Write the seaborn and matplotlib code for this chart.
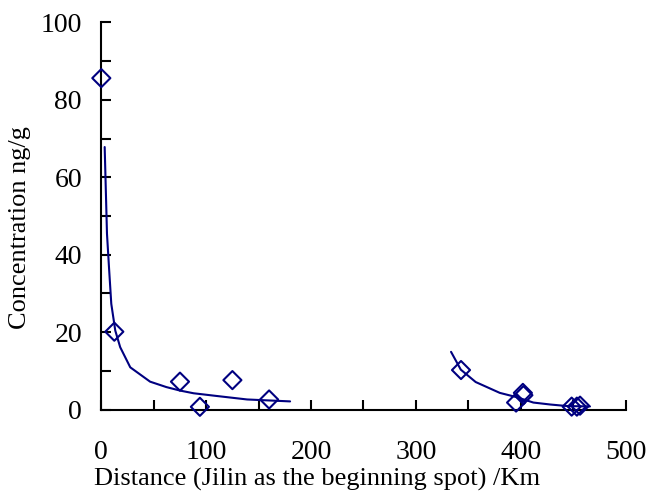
# concentration vs distance along the river, with the two fitted decay curves
import seaborn as sns
from matplotlib import pyplot as plt
from matplotlib.ticker import MultipleLocator
import pandas as pd

# measured sites (distance km, concentration ng/g)
site_km = [0, 12.4, 75, 94, 125, 160, 343, 395.5, 402, 402.5, 448.5, 453.5, 456.5]
site_conc = [85.6, 20.1, 7.2, 0.7, 7.6, 2.6, 10.2, 1.8, 4.3, 3.7, 0.75, 0.75, 1.0]

# trend curves
upper_km = [3.2, 5.4, 7.3, 9.5, 13.3, 18, 27.6, 46.5, 62, 75, 88, 110, 139, 180]
upper_conc = [67.8, 45.4, 36.8, 27.3, 20.4, 16.1, 10.9, 7.2, 5.8, 4.9, 4.2, 3.5, 2.6, 2.1]
lower_km = [333.5, 342.8, 357, 380, 396, 412, 428, 444, 466]
lower_conc = [14.9, 10.3, 7.1, 4.3, 3.2, 1.8, 1.3, 0.9, 0.8]

sites = pd.DataFrame({'km': site_km, 'conc': site_conc})
navy = '#000080'

sns.set_style('ticks')
plt.rcParams['font.family'] = ['Liberation Serif', 'DejaVu Serif']
plt.rcParams['text.color'] = 'black'
plt.rcParams['axes.labelcolor'] = 'black'
plt.rcParams['xtick.color'] = 'black'
plt.rcParams['ytick.color'] = 'black'

fig = plt.figure(figsize=(6.47, 4.97), dpi=100)
ax = fig.add_axes([0.1566, 0.176, 0.8104, 0.779])

sns.lineplot(x=upper_km, y=upper_conc, ax=ax, color=navy, lw=1.5, sort=False)
sns.lineplot(x=lower_km, y=lower_conc, ax=ax, color=navy, lw=1.5, sort=False)
sns.scatterplot(data=sites, x='km', y='conc', ax=ax, marker='D', s=85,
                facecolors='none', edgecolor=navy, linewidth=1.5, clip_on=False, zorder=3)

ax.set_xlim(0, 500)
ax.set_ylim(0, 100)
ax.xaxis.set_major_locator(MultipleLocator(100))
ax.xaxis.set_minor_locator(MultipleLocator(50))
ax.yaxis.set_major_locator(MultipleLocator(20))
ax.yaxis.set_minor_locator(MultipleLocator(10))
ax.tick_params(which='both', direction='in', length=7, width=1.5, colors='black', labelsize=20)
ax.tick_params(axis='x', pad=22)
ax.tick_params(axis='y', pad=14)

for side in ['top', 'right']:
    ax.spines[side].set_visible(False)
for side in ['left', 'bottom']:
    ax.spines[side].set_linewidth(1.5)
    ax.spines[side].set_color('black')

ax.set_xlabel('Distance (Jilin as the beginning spot) /Km', fontsize=19)
ax.set_ylabel('Concentration ng/g', fontsize=19)
ax.xaxis.set_label_coords(0.412, -0.152)
ax.yaxis.set_label_coords(-0.135, 0.471)

fig.savefig('out.png', dpi=100)
